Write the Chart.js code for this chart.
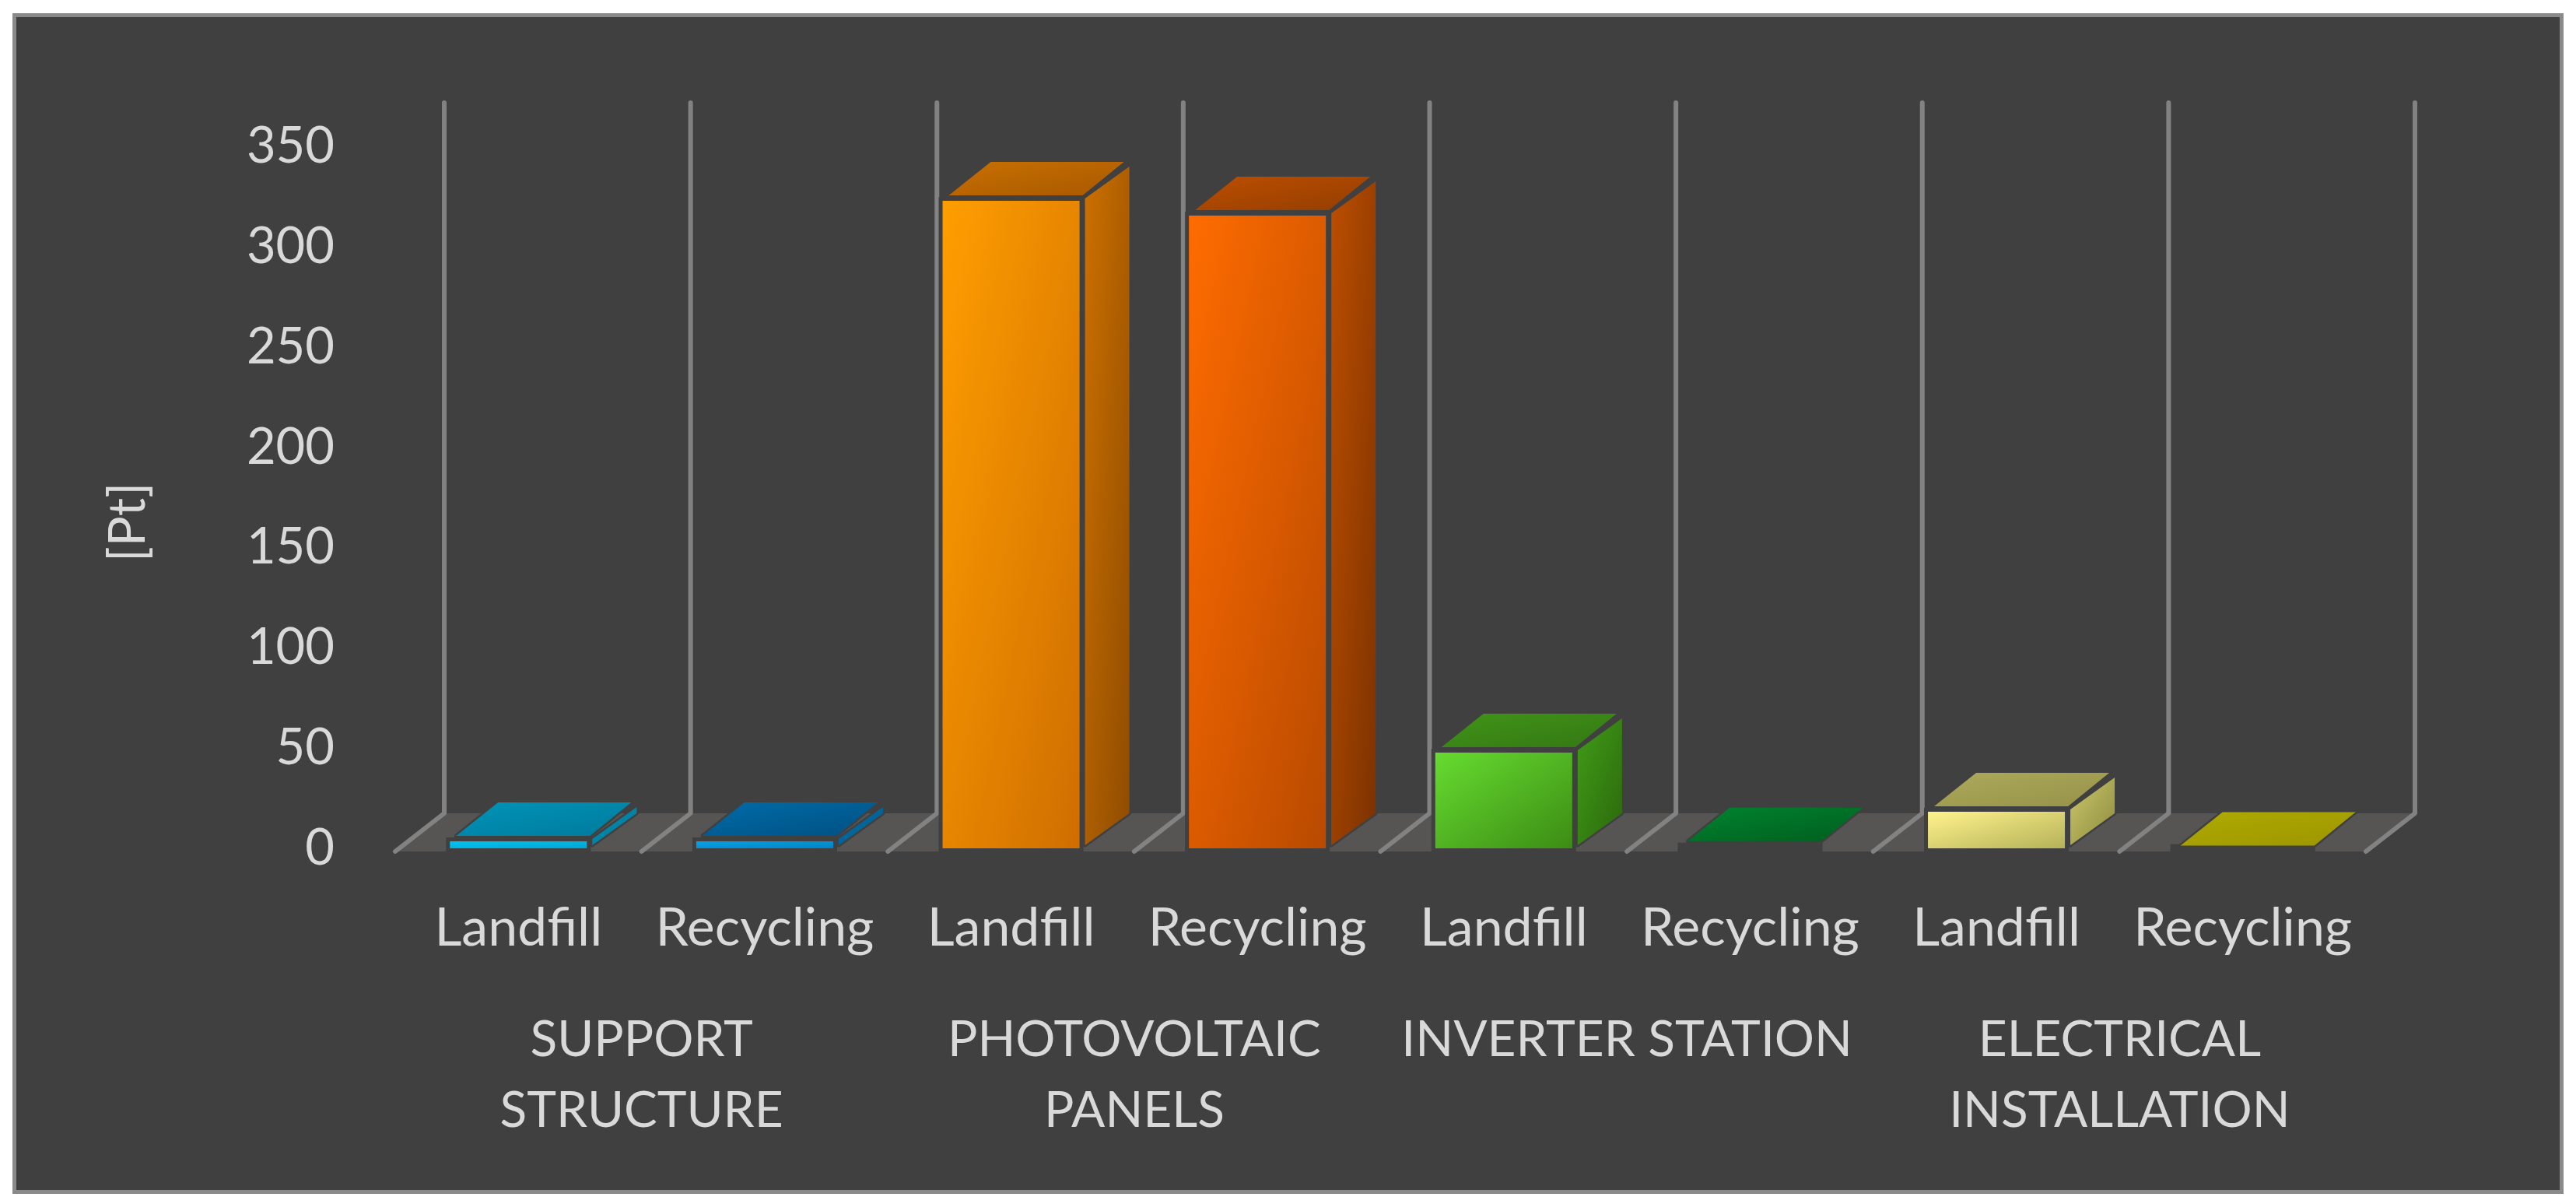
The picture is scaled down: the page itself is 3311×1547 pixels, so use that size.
<!DOCTYPE html>
<html>
<head>
<meta charset="utf-8">
<title>Landfill vs Recycling</title>
<script src="https://cdn.jsdelivr.net/npm/chart.js@4"></script>
<style>
  html, body { margin: 0; padding: 0; background: #ffffff; }
  #panel { position: absolute; left: 16px; top: 17px; width: 3279px; height: 1517px; box-sizing: border-box; background: #404040; border: 5px solid #8a8a8a; }
  canvas { position: absolute; left: 0; top: 0; }
</style>
</head>
<body>
<div id="panel"></div>
<canvas id="grafico" width="3311" height="1547"></canvas>
<script>
// Data
const categories = ["Landfill", "Recycling", "Landfill", "Recycling", "Landfill", "Recycling", "Landfill", "Recycling"];
const groups = [["SUPPORT", "STRUCTURE"], ["PHOTOVOLTAIC", "PANELS"], ["INVERTER STATION"], ["ELECTRICAL", "INSTALLATION"]];
const values = [3.5, 3.5, 322.8, 315.5, 47.7, 0.9, 18.2, 0.2];
const yTicks = [0, 50, 100, 150, 200, 250, 300, 350];

// Colours per bar: [start, end] of each face
const frontColors = [["#00c4f0", "#00a4d4"], ["#0aa0e6", "#0084c4"], ["#ff9e00", "#cf6e00"], ["#ff6c00", "#b84a00"], ["#66dc30", "#3c8c14"], ["#404040", "#404040"], ["#fff28c", "#b4b258"], ["#404040", "#404040"]];
const topColors = [["#0094b8", "#007a9c"], ["#006ca8", "#005082"], ["#c87000", "#a85800"], ["#bc4e00", "#943e00"], ["#409418", "#347814"], ["#008430", "#005e1e"], ["#acaa5c", "#969248"], ["#b0aa00", "#9c9600"]];
const sideColors = [["#0090b4", "#007898"], ["#0070aa", "#005a8a"], ["#cc7000", "#8f4c00"], ["#bc4e00", "#7c3200"], ["#409c18", "#2c680c"], ["#404040", "#404040"], ["#ccc86c", "#8c8a3e"], ["#404040", "#404040"]];

const corFundo = "#404040";
const corTexto = "#d9d9d9";
const corGrade = "#828282";
const corPiso = "#575454";
const familia = "Lato";
const depthX = 63;
const depthY = 49;

// gradiente na diagonal do retangulo: os cantos opostos ficam com a mesma cor
function gradiente(ctx, x, y, w, h, cores) {
    const k = (2 * w * h) / (w * w + h * h);
    const g = ctx.createLinearGradient(x, y, x + h * k, y + w * k);
    g.addColorStop(0, cores[0]);
    g.addColorStop(1, cores[1]);
    return g;
}

function poligono(ctx, pontos) {
    ctx.beginPath();
    pontos.forEach((p, i) => (i ? ctx.lineTo(p[0], p[1]) : ctx.moveTo(p[0], p[1])));
    ctx.closePath();
}

// --- Back wall, floor and the 3D faces of the bars ---
const cena3d = {
    id: "cena3d",
    beforeDatasetsDraw(chart) {
        const { ctx, scales } = chart;
        const x = scales.x, y = scales.y;
        const y0 = y.getPixelForValue(0);
        const yTopo = y.getPixelForValue(350);
        const passo = x.width / categories.length;

        ctx.save();
        // piso
        ctx.fillStyle = corPiso;
        poligono(ctx, [[x.left, y0 + 4], [x.left + depthX, y0 + 4 - depthY], [x.right + depthX, y0 + 4 - depthY], [x.right, y0 + 4]]);
        ctx.fill();

        // linhas de grade na parede de fundo e no piso
        ctx.strokeStyle = corGrade;
        ctx.lineWidth = 6;
        ctx.lineCap = "round";
        ctx.lineJoin = "round";
        for (let i = 0; i <= categories.length; i++) {
            const gx = x.left + i * passo;
            ctx.beginPath();
            ctx.moveTo(gx, y0 + 4);
            ctx.lineTo(gx + depthX, y0 + 4 - depthY);
            ctx.lineTo(gx + depthX, yTopo - 56);
            ctx.stroke();
        }

        // faces de cima e do lado
        chart.getDatasetMeta(0).data.forEach((bar, i) => {
            const xL = bar.x - bar.width / 2;
            const xR = bar.x + bar.width / 2;
            const yT = bar.y;
            const yB = bar.base;
            const gap = values[i] > 0.5 ? 7 : 3;

            // halo escuro em volta da face da frente
            ctx.fillStyle = corFundo;
            ctx.fillRect(xL - 5, yT - 5, bar.width + 10, yB - yT + 10);

            const topo = [[xL + 8, yT - gap], [xR + 4, yT - gap], [xR + 57, yT - gap - 43], [xL + 62, yT - gap - 43]];
            const lado = [[xR + 7, yT - 3], [xR + 64, yT - 44], [xR + 64, yB - 45], [xR + 7, yB - 4]];

            if (values[i] > 1.5) {
                poligono(ctx, lado);
                ctx.strokeStyle = corFundo;
                ctx.lineWidth = 5;
                ctx.stroke();
                ctx.fillStyle = gradiente(ctx, xR + 7, yT - 44, 57, yB - yT + 40, sideColors[i]);
                ctx.fill();
            }
            poligono(ctx, topo);
            ctx.strokeStyle = corFundo;
            ctx.lineWidth = 5;
            ctx.stroke();
            ctx.fillStyle = gradiente(ctx, xL + 8, yT - gap - 43, bar.width + 49, 43, topColors[i]);
            ctx.fill();
        });
        ctx.restore();
    },
    afterDraw(chart) {
        // titulo do eixo y, fora do centro da escala como no original
        const { ctx } = chart;
        ctx.save();
        ctx.translate(165, 671);
        ctx.rotate(-Math.PI / 2);
        ctx.fillStyle = corTexto;
        ctx.font = "65px " + familia;
        ctx.textAlign = "center";
        ctx.textBaseline = "middle";
        ctx.fillText("[Pt]", 0, 0);
        ctx.restore();
    },
};

new Chart(document.getElementById("grafico"), {
    type: "bar",
    data: {
        labels: categories,
        datasets: [{
            data: values,
            categoryPercentage: 0.556,
            barPercentage: 1,
            borderWidth: 0,
            backgroundColor(c) {
                const { chart, dataIndex } = c;
                if (!chart.chartArea) return frontColors[dataIndex][0];
                const xc = chart.scales.x.getPixelForValue(dataIndex);
                const yT = chart.scales.y.getPixelForValue(values[dataIndex]);
                const yB = chart.scales.y.getPixelForValue(0);
                return gradiente(chart.ctx, xc - 88, yT, 176, yB - yT, frontColors[dataIndex]);
            },
        }],
    },
    options: {
        responsive: false,
        animation: false,
        layout: { padding: { left: 0, top: 188, right: 270, bottom: 0 } },
        plugins: { legend: { display: false }, tooltip: { enabled: false } },
        scales: {
            x: {
                grid: { display: false },
                border: { display: false },
                ticks: { color: corTexto, font: { family: familia, size: 68 }, padding: 54, maxRotation: 0, autoSkip: false },
                afterFit(s) { s.height = 160; },
            },
            x2: {
                type: "category",
                labels: groups,
                position: "bottom",
                offset: true,
                grid: { display: false },
                border: { display: false },
                ticks: { color: corTexto, font: { family: familia, size: 64, lineHeight: 1.42 }, padding: 33, maxRotation: 0, autoSkip: false },
                afterFit(s) { s.height = 297; },
            },
            y: {
                min: 0,
                max: 350,
                grid: { display: false },
                border: { display: false },
                afterBuildTicks(s) { s.ticks = yTicks.map((v) => ({ value: v })); },
                ticks: { color: corTexto, font: { family: familia, size: 65 }, padding: 70 },
                afterFit(s) { s.width = 508; },
            },
        },
    },
    plugins: [cena3d],
});
</script>
</body>
</html>
